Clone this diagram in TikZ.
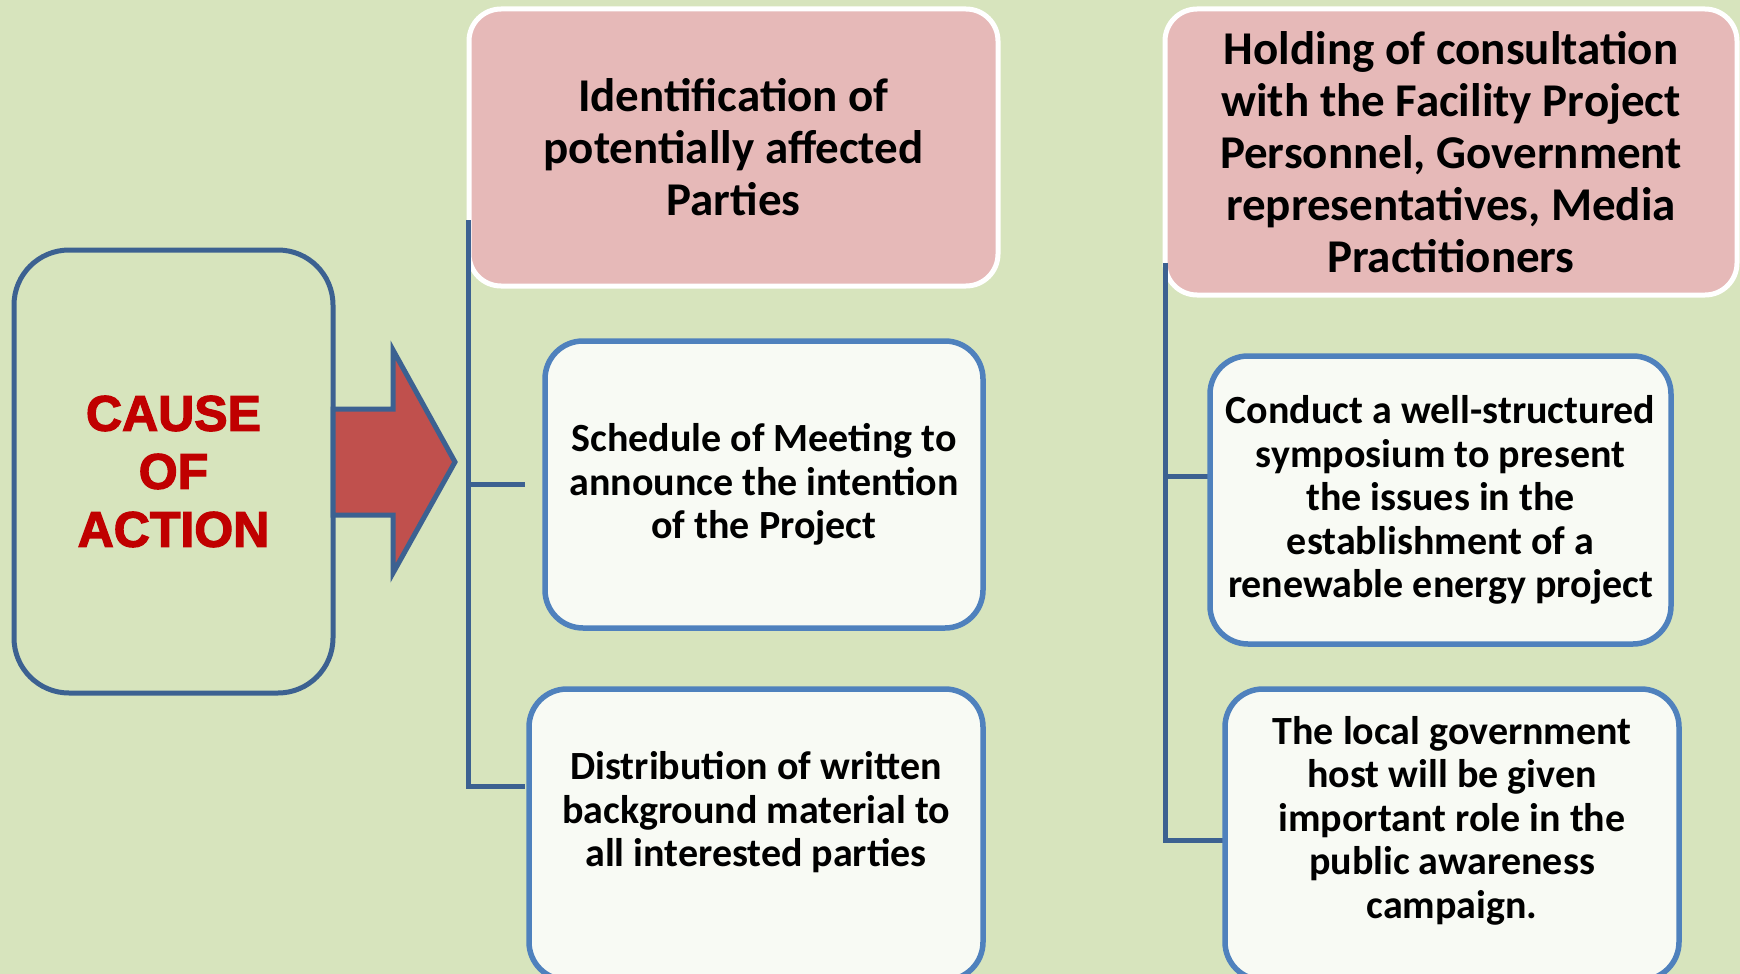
\documentclass[tikz,border=0pt]{standalone}
\usepackage{fontspec}
\setmainfont{Carlito}
\newfontfamily\causefont{Liberation Sans}[BoldFeatures={FakeBold=2.5}]
\definecolor{bggreen}{HTML}{D7E4BD}
\definecolor{pinkfill}{HTML}{E6B9B8}
\definecolor{boxwhite}{HTML}{F8FAF4}
\definecolor{boxblue}{HTML}{4F81BD}
\definecolor{linedark}{HTML}{3C6191}
\definecolor{arrowred}{HTML}{C0504D}
\definecolor{causered}{HTML}{C00000}

\begin{document}
\begin{tikzpicture}[x=1pt,y=-1pt,
  trunk/.style={draw=linedark,line width=5pt},
  pinkbox/.style={draw=white,line width=5pt,fill=pinkfill,rounded corners=32pt,inner sep=0pt},
  whitebox/.style={draw=boxblue,line width=5.5pt,fill=boxwhite,rounded corners=38pt,inner sep=0pt},
  txt/.style={align=center,font=\fontsize{40}{43.5}\selectfont\bfseries},
  bigtxt/.style={align=center,font=\fontsize{47}{52}\selectfont\bfseries}]
\fill [bggreen] (0,0) rectangle (1740,974);
\useasboundingbox (0,0) rectangle (1740,974);
\clip (0,0) rectangle (1740,974);

\node [draw=linedark,line width=5pt,rounded corners=55pt,minimum width=319pt,minimum height=443pt,
       inner sep=0pt,text=causered,align=center,font=\causefont\fontsize{50}{58}\selectfont\bfseries]
       (cause) at (173.5,471.5) {CAUSE\\OF\\ACTION};
\draw [draw=linedark,line width=5pt,fill=arrowred] (333,409) -- (393,409) -- (393,350) -- (455,462)
       -- (393,573) -- (393,515) -- (333,515) -- cycle;

\node [pinkbox,bigtxt,minimum width=529pt,minimum height=277pt] (ident) at (733.5,147.5)
       {Identification of\\potentially affected\\Parties};
\node [pinkbox,bigtxt,minimum width=572pt,minimum height=286pt] (consult) at (1451,152)
       {Holding of consultation\\with the Facility Project\\Personnel, Government\\representatives, Media\\Practitioners};

\coordinate (ltop) at (468,220);
\coordinate (lmid) at (525,484);
\coordinate (lend) at (525,786);
\draw [trunk] (ltop) -- (ltop |- lend) -- (lend);
\draw [trunk] (ltop |- lmid) -- (lmid);

\coordinate (rtop) at (1165,263);
\coordinate (rmid) at (1221,476);
\coordinate (rend) at (1225,840);
\draw [trunk] (rtop) -- (rtop |- rend) -- (rend);
\draw [trunk] (rtop |- rmid) -- (rmid);

\node [whitebox,txt,minimum width=438pt,minimum height=287pt] (sched) at (764,484.5)
       {Schedule of Meeting to\\announce the intention\\of the Project};
\node [whitebox,minimum width=454pt,minimum height=291pt] (dist) at (756,834.5) {};
\node [txt] (disttext) at ([yshift=22pt]dist.center)
       {Distribution of written\\background material to\\all interested parties};
\node [whitebox,txt,minimum width=461pt,minimum height=288pt] (conduct) at (1440.5,500)
       {Conduct a well-structured\\symposium to present\\the issues in the\\establishment of a\\renewable energy project};
\node [whitebox,minimum width=454pt,minimum height=291pt] (local) at (1452,834.5) {};
\node [txt] (localtext) at ([yshift=14pt]local.center)
       {The local government\\host will be given\\important role in the\\public awareness\\campaign.};
\end{tikzpicture}
\end{document}
